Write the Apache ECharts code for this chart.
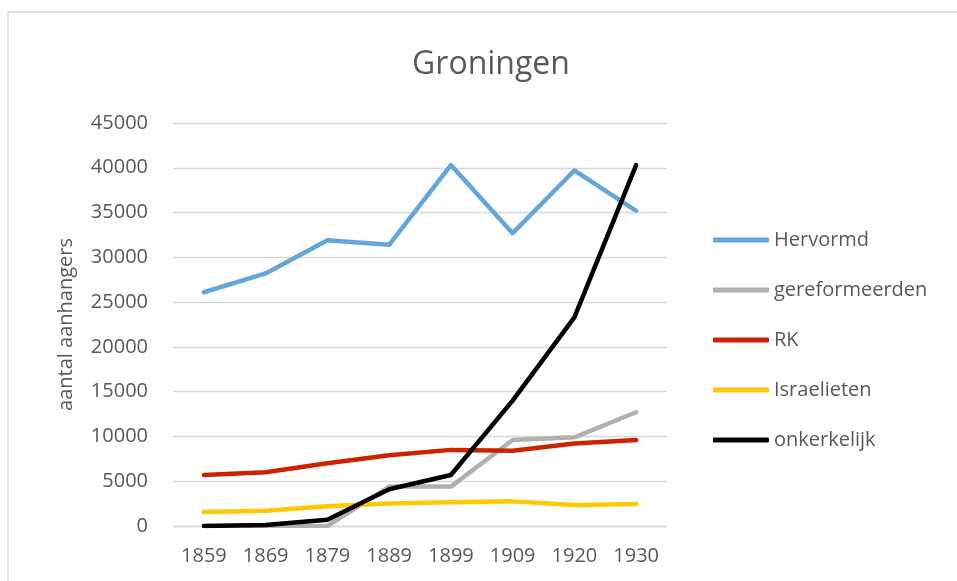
<!DOCTYPE html>
<html>
<head>
<meta charset="utf-8">
<script src="https://cdn.jsdelivr.net/npm/echarts@6/dist/echarts.min.js"></script>
<style>
  html, body { margin: 0; padding: 0; background: #fff; }
  #chart { width: 957px; height: 581px; }
</style>
</head>
<body>
<div id="chart"></div>
<script>
// jaren en aantallen per kerkgenootschap
const years = ['1859', '1869', '1879', '1889', '1899', '1909', '1920', '1930']
const hervormd = [26100, 28200, 31900, 31400, 40300, 32700, 39700, 35200]
const gereformeerden = [0, 0, 0, 4400, 4400, 9600, 9900, 12700]
const rk = [5700, 6000, 7000, 7900, 8500, 8400, 9200, 9600]
const israelieten = [1550, 1700, 2200, 2500, 2650, 2750, 2350, 2450]
const onkerkelijk = [0, 100, 700, 4100, 5700, 14000, 23300, 40300]
const yTicks = [0, 5000, 10000, 15000, 20000, 25000, 30000, 35000, 40000, 45000]

const font = '"Open Sans", "Noto Sans", sans-serif'
const textColor = '#595959'

const chart = echarts.init(document.getElementById('chart'))

const mkLine = (name, data, color) => ({
  name,
  type: 'line',
  data,
  symbol: 'none',
  lineStyle: { color, width: 4.5, cap: 'round', join: 'round' },
  itemStyle: { color },
  emphasis: { disabled: true }
})

const option = {
  animation: false,
  textStyle: { fontFamily: font },
  graphic: [{
    type: 'rect',
    shape: { x: 8, y: 12, width: 1000, height: 1000 },
    style: { fill: 'none', stroke: '#d9d9d9', lineWidth: 1.5 },
    silent: true
  }],
  title: {
    text: 'Groningen',
    left: 486,
    textAlign: 'center',
    top: 44,
    textStyle: { fontFamily: font, fontSize: 32, fontWeight: 'normal', color: textColor }
  },
  legend: {
    orient: 'vertical',
    left: 713,
    top: 230,
    padding: 0,
    itemWidth: 56,
    itemHeight: 5,
    itemGap: 30,
    icon: 'roundRect',
    textStyle: { fontFamily: font, fontSize: 20, color: textColor },
    data: ['Hervormd', 'gereformeerden', 'RK', 'Israelieten', 'onkerkelijk']
  },
  grid: { left: 173, right: 290, top: 123, bottom: 55, containLabel: false },
  xAxis: {
    type: 'category',
    data: years,
    boundaryGap: true,
    axisLine: { lineStyle: { color: '#d9d9d9', width: 1.3 } },
    axisTick: { show: false },
    axisLabel: { fontFamily: font, fontSize: 20, color: textColor, margin: 20 }
  },
  yAxis: {
    type: 'value',
    min: yTicks[0],
    max: yTicks[yTicks.length - 1],
    interval: yTicks[1] - yTicks[0],
    name: 'aantal aanhangers',
    nameLocation: 'middle',
    nameRotate: 90,
    nameGap: 97,
    nameTextStyle: { fontFamily: font, fontSize: 20, color: textColor },
    axisLine: { show: false },
    axisTick: { show: false },
    axisLabel: {
      fontFamily: font, fontSize: 20, color: textColor, margin: 25,
      formatter: v => String(v)
    },
    splitLine: { lineStyle: { color: '#d9d9d9', width: 1.3 } }
  },
  series: [
    mkLine('Hervormd', hervormd, '#64a5dc'),
    mkLine('gereformeerden', gereformeerden, '#b0b0b0'),
    mkLine('RK', rk, '#cc2200'),
    mkLine('Israelieten', israelieten, '#ffc800'),
    mkLine('onkerkelijk', onkerkelijk, '#000000')
  ]
}

option && chart.setOption(option)
</script>
</body>
</html>
